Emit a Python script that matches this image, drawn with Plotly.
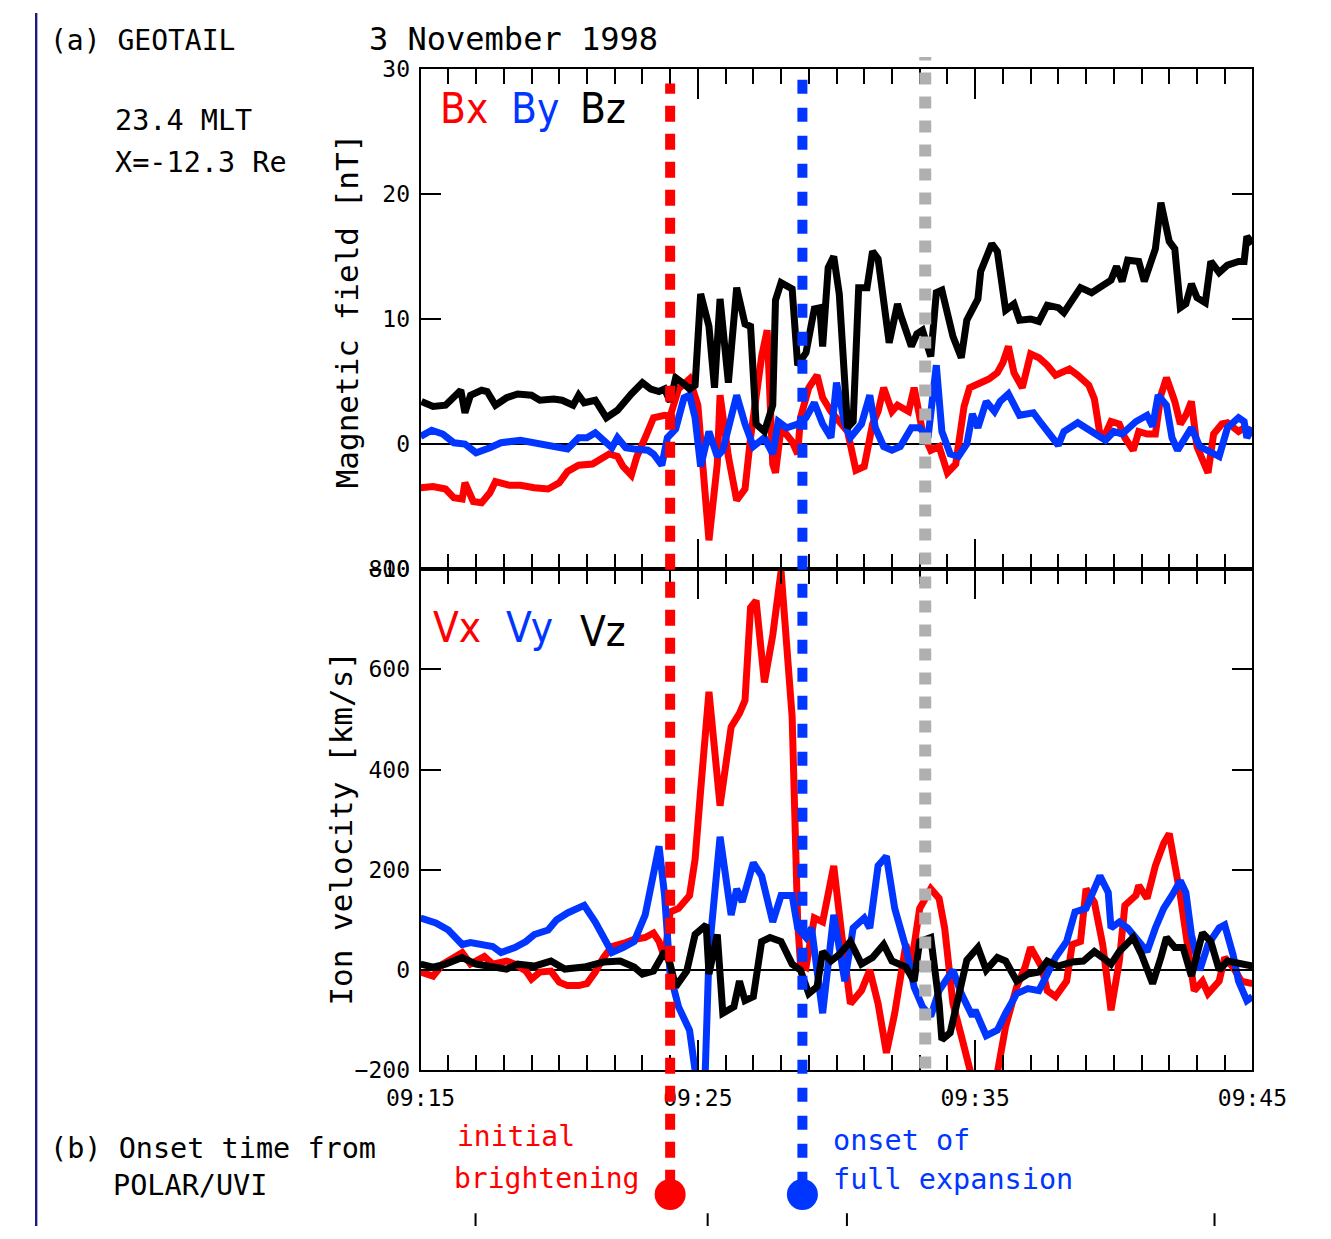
import plotly.graph_objects as go

# ---------------- data (time in minutes after 09:15 UT) ----------------
t_bx = [0.0, 0.45, 0.9, 1.2, 1.5, 1.6, 1.9, 2.2, 2.5, 2.7, 3.2, 3.6, 4.1, 4.6, 5.0, 5.3, 5.7, 6.2, 6.5, 6.8,
        7.1, 7.3, 7.6, 7.8, 8.1, 8.4, 8.8, 9.0, 9.3, 9.7, 10.0, 10.2, 10.4, 10.7, 10.8, 11.1, 11.4, 11.7, 11.9,
        12.3, 12.5, 12.7, 12.8, 13.0, 13.4, 13.6, 13.7, 14.0, 14.3, 14.5, 14.8, 15.1, 15.4, 15.7, 16.0, 16.3,
        16.5, 16.7, 17.0, 17.2, 17.6, 17.8, 18.1, 18.4, 18.7, 19.0, 19.3, 19.6, 19.8, 20.2, 20.5, 20.8, 21.0,
        21.2, 21.4, 21.7, 22.0, 22.3, 22.6, 22.9, 23.4, 23.7, 24.1, 24.3, 24.5, 24.7, 24.9, 25.2, 25.4, 25.7,
        25.9, 26.2, 26.5, 26.7, 26.9, 27.2, 27.4, 27.6, 27.8, 28.0, 28.3, 28.4, 28.6, 28.9, 29.1, 29.5, 29.7, 30.0]
bx = [-3.5, -3.4, -3.6, -4.3, -4.4, -3.1, -4.6, -4.7, -3.9, -3.0, -3.3, -3.3, -3.5, -3.6, -3.1, -2.2, -1.7, -1.6,
      -1.2, -0.8, -1.0, -1.8, -2.5, -1.0, 0.5, 2.1, 2.3, 2.2, 4.4, 5.2, 3.1, -2.3, -7.7, -1.6, 3.9, -1.0, -4.5,
      -3.6, 0.5, 7.0, 9.1, -1.6, -2.3, 1.3, 0.2, -0.8, 2.1, 4.5, 5.5, 3.7, 2.6, 1.8, 1.0, -2.1, -1.8, 1.6, 2.6,
      4.5, 2.6, 3.1, 2.6, 4.5, 1.0, -0.5, -0.2, -2.3, -1.6, 3.0, 4.5, 4.9, 5.2, 5.7, 6.5, 7.8, 5.7, 4.5, 7.2,
      6.9, 6.3, 5.5, 6.0, 5.5, 4.7, 3.6, 0.8, 0.8, 1.8, 1.6, 0.5, -0.5, 1.0, 0.8, 0.8, 3.9, 5.3, 3.4, 1.6, 2.3,
      3.4, -0.2, -1.6, -2.3, 0.8, 1.6, 1.7, 1.0, 1.3, 1.0]

t_by = [0.0, 0.4, 0.8, 1.2, 1.6, 2.0, 2.5, 2.9, 3.6, 4.3, 4.9, 5.3, 5.7, 6.0, 6.3, 6.6, 6.9, 7.1, 7.4, 7.7, 8.2,
        8.4, 8.7, 8.9, 9.2, 9.5, 9.7, 9.9, 10.1, 10.4, 10.7, 10.9, 11.4, 11.7, 12.0, 12.4, 12.7, 12.9, 13.2,
        13.6, 13.9, 14.2, 14.5, 14.8, 15.0, 15.3, 15.5, 15.9, 16.2, 16.4, 16.7, 17.0, 17.3, 17.7, 18.0, 18.3,
        18.6, 18.8, 19.1, 19.4, 19.7, 19.9, 20.1, 20.4, 20.7, 20.9, 21.2, 21.6, 22.1, 22.4, 23.0, 23.2, 23.7,
        24.2, 24.7, 25.0, 25.3, 25.8, 26.2, 26.4, 26.6, 26.9, 27.1, 27.3, 27.6, 27.8, 28.1, 28.4, 28.8, 29.1,
        29.5, 29.7, 29.8, 30.0]
by = [0.6, 1.1, 0.8, 0.1, 0.0, -0.7, -0.3, 0.1, 0.3, 0.0, -0.3, -0.4, 0.5, 0.5, 0.9, 0.3, -0.3, 0.5, -0.3, -0.4,
      -0.5, -0.8, -1.7, 0.5, 1.2, 3.7, 3.9, 2.1, -1.8, 1.0, -1.0, -0.5, 3.9, 1.6, -0.2, 0.5, -0.8, 1.8, 1.3, 1.6,
      2.1, 3.3, 1.6, 0.5, 4.9, 1.6, 0.5, 1.6, 3.9, 1.3, -0.2, -0.5, -0.2, 1.3, 1.3, 0.5, 6.3, 1.0, -0.8, -1.0,
      0.0, 2.4, 1.3, 3.4, 2.6, 3.4, 4.0, 2.3, 2.5, 1.6, -0.1, 1.0, 1.7, 1.0, 0.3, 1.0, 0.8, 1.8, 2.3, 1.4, 3.9,
      3.1, 0.5, -0.5, 0.5, 1.3, -0.2, -0.5, -1.0, 1.3, 2.1, 1.8, 0.5, 1.3]

t_bz = [0.03, 0.45, 0.9, 1.2, 1.45, 1.6, 1.8, 2.2, 2.4, 2.7, 3.1, 3.5, 4.0, 4.3, 4.8, 5.1, 5.5, 5.7, 5.9, 6.3,
        6.7, 7.1, 7.4, 7.6, 8.0, 8.3, 8.6, 8.8, 9.0, 9.2, 9.5, 9.7, 9.9, 10.1, 10.4, 10.6, 10.8, 11.1, 11.4,
        11.7, 11.9, 12.1, 12.4, 12.7, 12.8, 13.0, 13.4, 13.6, 13.9, 14.2, 14.4, 14.5, 14.7, 14.9, 15.1, 15.4,
        15.6, 15.8, 16.1, 16.3, 16.5, 16.9, 17.2, 17.3, 17.7, 17.9, 18.1, 18.4, 18.6, 18.8, 19.2, 19.5, 19.7,
        19.9, 20.1, 20.2, 20.6, 20.8, 21.1, 21.4, 21.6, 22.0, 22.3, 22.6, 23.0, 23.2, 23.5, 23.8, 24.2, 24.5,
        24.9, 25.1, 25.3, 25.5, 25.9, 26.1, 26.5, 26.7, 27.0, 27.2, 27.4, 27.6, 27.8, 28.0, 28.3, 28.5, 28.8,
        29.1, 29.5, 29.7, 29.8, 30.0]
bz = [3.4, 3.0, 3.1, 3.7, 4.3, 2.5, 3.9, 4.3, 4.2, 3.1, 3.7, 4.0, 3.9, 3.5, 3.6, 3.5, 3.1, 3.9, 3.3, 3.5, 2.1,
      2.7, 3.6, 4.0, 4.9, 4.4, 4.2, 4.4, 3.4, 5.3, 4.8, 4.4, 4.7, 12.0, 9.4, 4.5, 11.6, 4.9, 12.5, 9.6, 9.4,
      1.6, 1.0, 3.1, 11.5, 12.9, 12.4, 6.3, 7.3, 10.8, 10.9, 7.8, 14.1, 15.0, 12.0, 1.3, 1.8, 12.5, 12.5, 15.4,
      14.8, 8.1, 11.2, 10.4, 7.8, 8.8, 9.1, 7.0, 12.1, 12.3, 8.6, 6.9, 9.9, 10.7, 11.6, 13.8, 16.0, 15.4, 10.7,
      11.2, 9.9, 10.0, 9.8, 11.1, 10.9, 10.5, 11.5, 12.5, 12.1, 12.6, 13.1, 14.2, 13.0, 14.7, 14.6, 13.0, 15.6,
      19.3, 16.2, 15.6, 10.9, 11.2, 12.8, 11.7, 11.3, 14.6, 13.7, 14.3, 14.6, 14.6, 16.6, 16.0]

t_vx = [0.0, 0.45, 0.8, 1.1, 1.5, 1.8, 2.3, 2.6, 3.1, 3.4, 3.8, 4.0, 4.3, 4.7, 5.0, 5.3, 5.7, 6.0, 6.3, 6.6, 6.9,
        7.4, 7.7, 8.1, 8.4, 8.6, 8.8, 9.0, 9.3, 9.7, 9.9, 10.1, 10.4, 10.8, 11.2, 11.5, 11.7, 11.9, 12.1, 12.4,
        12.7, 13.0, 13.4, 13.6, 13.7, 13.9, 14.2, 14.5, 14.9, 15.2, 15.5, 15.9, 16.2, 16.5, 16.8, 17.1, 17.5,
        17.7, 18.0, 18.4, 18.7, 18.9, 19.2, 19.5, 19.7, 20.0, 20.4, 20.8, 21.1, 21.5, 21.8, 22.0, 22.4, 22.6,
        22.9, 23.3, 23.5, 23.8, 24.0, 24.3, 24.6, 24.9, 25.2, 25.4, 25.8, 25.9, 26.2, 26.5, 26.8, 27.0, 27.4,
        27.6, 27.9, 28.2, 28.4, 28.8, 29.0, 29.3, 29.6, 30.0]
vx = [-4, -12, 12, 22, 35, 12, 27, 12, 18, 12, -2, -18, -4, -2, -24, -31, -31, -27, -4, 25, 47, 55, 61, 65, 74,
      57, 25, 116, 123, 149, 221, 359, 555, 328, 485, 512, 538, 723, 737, 574, 668, 796, 505, 96, 12, 6, 104, 96,
      208, 65, -67, -41, 0, -67, -165, -86, 51, 12, 123, 162, 143, 84, -67, -131, -184, -240, -260, -205, -112,
      -33, 6, 45, 6, -41, -53, -22, 51, 57, 162, 135, 51, -80, 18, 129, 149, 169, 143, 208, 253, 272, 149, 65,
      -41, -22, -47, -22, 25, 6, -22, -27]

t_vy = [0.0, 0.55, 1.0, 1.5, 1.8, 2.3, 2.6, 2.9, 3.4, 3.8, 4.1, 4.6, 4.9, 5.3, 5.9, 6.3, 6.6, 6.9, 7.3, 7.7, 8.1,
        8.3, 8.6, 8.8, 9.0, 9.3, 9.7, 9.9, 10.1, 10.25, 10.4, 10.8, 11.2, 11.4, 11.6, 12.0, 12.3, 12.7, 13.0,
        13.4, 13.6, 13.9, 14.1, 14.5, 14.9, 15.3, 15.6, 16.0, 16.2, 16.5, 16.8, 17.1, 17.5, 17.8, 18.1, 18.4,
        18.7, 19.2, 19.5, 19.9, 20.0, 20.4, 20.8, 21.1, 21.5, 21.9, 22.3, 22.6, 22.9, 23.3, 23.6, 24.0, 24.2,
        24.5, 24.8, 24.9, 25.2, 25.5, 25.9, 26.2, 26.5, 26.8, 27.1, 27.4, 27.6, 27.8, 28.1, 28.4, 28.8, 29.0,
        29.3, 29.5, 29.8, 30.0]
vy = [104, 94, 80, 51, 55, 51, 47, 35, 45, 57, 71, 80, 100, 114, 129, 96, 65, 35, 45, 57, 110, 169, 247, 149, -8,
      -73, -120, -200, -260, -230, 31, 266, 110, 162, 136, 214, 188, 96, 149, 149, 84, 65, 84, -86, 110, -22, 84,
      104, 84, 208, 227, 123, 45, -34, -73, -92, -41, 0, -47, -92, -80, -131, -120, -86, -47, -37, -41, -8, 25,
      57, 116, 123, 149, 188, 155, 84, 96, 84, 57, 37, 84, 123, 149, 178, 155, 71, 0, 51, 84, 90, 31, -22, -61,
      -53]

t_vz = [0.0, 0.45, 0.9, 1.5, 2.0, 2.6, 3.1, 3.5, 4.1, 4.7, 5.2, 5.9, 6.6, 7.2, 7.7, 8.0, 8.4, 8.8, 9.0, 9.2, 9.6,
        9.9, 10.3, 10.4, 10.7, 10.9, 11.3, 11.5, 11.7, 12.0, 12.3, 12.6, 13.0, 13.4, 13.7, 14.0, 14.3, 14.5,
        14.8, 15.1, 15.5, 15.9, 16.3, 16.7, 17.0, 17.5, 17.8, 18.0, 18.4, 18.7, 18.8, 19.1, 19.4, 19.7, 20.1,
        20.4, 20.8, 21.1, 21.5, 21.9, 22.3, 22.6, 23.0, 23.5, 23.9, 24.3, 24.6, 24.9, 25.2, 25.7, 26.0, 26.4,
        26.7, 26.9, 27.2, 27.5, 27.8, 28.0, 28.2, 28.5, 28.8, 29.1, 29.5, 30.0]
vz = [12, 6, 12, 25, 12, 6, 2, 12, 8, 18, 2, 6, 16, 18, 6, -8, -2, 37, 12, -33, -2, 71, 90, -8, 71, -86, -73, -22,
      -61, -53, 57, 65, 57, 12, 0, -47, -33, 37, 18, 31, 57, 12, 25, 51, 18, 6, -22, 57, 65, -67, -139, -125, -53,
      20, 45, 0, 25, 18, -22, -8, -4, 18, 8, 16, 18, 37, 25, 12, 37, 65, 31, -27, 25, 65, 45, 45, -12, 37, 74, 57,
      0, 18, 12, 8]

# onset times (minutes after 09:15): initial brightening, full expansion, reference (gray)
onset_initial = 9.0
onset_full = 13.77
gray_time = 18.2

x_tickvals = [0, 10, 20, 30]
x_ticktext = ["09:15", "09:25", "09:35", "09:45"]
b_tickvals = [-10, 0, 10, 20, 30]
v_tickvals = [-200, 0, 200, 400, 600, 800]
v_ticktext = ["\u2212200", "0", "200", "400", "600", "800"]

# ---------------- styling ----------------
W, H = 1331, 1239
RED = "#ff0000"
BLUE = "#0036ff"
BLACK = "#000000"
GRAY = "#b0b0b0"
MONO = "DejaVu Sans Mono, Liberation Mono, monospace"
SANS = "DejaVu Sans Condensed, DejaVu Sans, sans-serif"


def px(x):
    return x / W


def py(y):
    return 1 - y / H


XDOM = [px(407), px(1285)]
Y1DOM = [py(568), py(57)]
Y2DOM = [py(1080), py(568)]

fig = go.Figure()
lw = 7
for t, v, c, n in [(t_bx, bx, RED, "Bx"), (t_by, by, BLUE, "By"), (t_bz, bz, BLACK, "Bz")]:
    fig.add_trace(go.Scatter(x=t, y=v, mode="lines", line=dict(color=c, width=lw), name=n,
                             xaxis="x", yaxis="y", showlegend=False))
for t, v, c, n in [(t_vx, vx, RED, "Vx"), (t_vy, vy, BLUE, "Vy"), (t_vz, vz, BLACK, "Vz")]:
    fig.add_trace(go.Scatter(x=t, y=v, mode="lines", line=dict(color=c, width=lw), name=n,
                             xaxis="x2", yaxis="y2", showlegend=False))

# onset dots (panel b)
fig.add_trace(go.Scatter(x=[onset_initial, onset_full], y=[0.26, 0.26], mode="markers",
                         marker=dict(size=31, color=[RED, BLUE], line=dict(width=0)),
                         xaxis="x3", yaxis="y3", showlegend=False))

xcommon = dict(range=[0, 30], tickmode="array", tickvals=x_tickvals, ticks="inside", ticklen=30,
               tickwidth=2, tickcolor=BLACK, showline=True, linecolor=BLACK, linewidth=2,
               mirror="allticks", showgrid=False, zeroline=False, domain=XDOM,
               minor=dict(dtick=1, tick0=0, ticks="inside", ticklen=15, tickwidth=2, tickcolor=BLACK,
                          showgrid=False))
ycommon = dict(ticks="inside", ticklen=20, tickwidth=2, tickcolor=BLACK, showline=True, linecolor=BLACK,
               linewidth=2, mirror="allticks", showgrid=False, zeroline=True, zerolinecolor=BLACK,
               zerolinewidth=2, tickfont=dict(family=MONO, size=23, color=BLACK), ticklabelstandoff=4)

fig.update_layout(
    width=W, height=H, autosize=False,
    margin=dict(l=0, r=0, t=0, b=0, pad=0),
    paper_bgcolor="white", plot_bgcolor="white",
    font=dict(family=MONO, color=BLACK),
    xaxis=dict(**xcommon, anchor="y", showticklabels=False),
    xaxis2=dict(**xcommon, anchor="y2", matches="x", showticklabels=True, ticktext=x_ticktext,
                tickfont=dict(family=MONO, size=23, color=BLACK), ticklabelstandoff=6),
    yaxis=dict(**ycommon, domain=Y1DOM, range=[-10, 30], tickmode="array", tickvals=b_tickvals, anchor="x"),
    yaxis2=dict(**ycommon, domain=Y2DOM, range=[-200, 800], tickmode="array", tickvals=v_tickvals,
                ticktext=v_ticktext, anchor="x2"),
    xaxis3=dict(domain=XDOM, range=[0, 30], visible=False, anchor="y3", matches="x"),
    yaxis3=dict(domain=[0, 0.1], range=[0, 1], visible=False, anchor="x3"),
)

# vertical onset lines
shapes = [
    dict(type="line", xref="x", yref="paper", x0=onset_initial, x1=onset_initial, y0=py(1198), y1=py(72),
         line=dict(color=RED, width=10, dash="16px,12px"), layer="above"),
    dict(type="line", xref="x", yref="paper", x0=onset_full, x1=onset_full, y0=py(1198), y1=py(58),
         line=dict(color=BLUE, width=10, dash="14px,14px"), layer="above"),
    dict(type="line", xref="x", yref="paper", x0=gray_time, x1=gray_time, y0=py(1078), y1=py(45),
         line=dict(color=GRAY, width=12, dash="12px,12px"), layer="above"),
    # navy page edge
    dict(type="rect", xref="paper", yref="paper", x0=0, x1=px(2.5), y0=0, y1=1,
         fillcolor="#1a1a80", line=dict(width=0), layer="above"),
]
# partial axis ticks of panel (b) at page bottom
for xb in [465, 710, 857, 1245]:
    shapes.append(dict(type="line", xref="paper", yref="paper", x0=px(xb), x1=px(xb), y0=0, y1=py(1226),
                       line=dict(color=BLACK, width=2)))
fig.update_layout(shapes=shapes)


def ann(text, x, y, size, color=BLACK, xanchor="left", angle=0, family=MONO):
    fig.add_annotation(text=text, x=px(x), y=py(y), xref="paper", yref="paper", showarrow=False,
                       xanchor=xanchor, yanchor="middle", textangle=angle,
                       font=dict(family=family, size=size, color=color))


ann("(a) GEOTAIL", 14, 28, 28)
ann("3 November 1998", 350, 27, 32)
ann("23.4 MLT", 82, 110, 28.5)
ann("X=-12.3 Re", 82, 153, 28.5)
ann("Bx", 425, 98, 42, RED, family=SANS)
ann("By", 500, 98, 42, BLUE, family=SANS)
ann("Bz", 573, 98, 42, BLACK, family=SANS)
ann("Vx", 418, 628, 42, RED, family=SANS)
ann("Vy", 495, 628, 42, BLUE, family=SANS)
ann("Vz", 573, 632, 42, BLACK, family=SANS)
ann("Magnetic field [nT]", 329, 304, 31, xanchor="center", angle=-90)
ann("Ion velocity [km/s]", 322, 833, 31, xanchor="center", angle=-90)
ann("(b) Onset time from", 14, 1160, 28.5)
ann("POLAR/UVI", 80, 1198, 28.5)
ann("initial", 443, 1148, 28, RED)
ann("brightening", 440, 1190, 28, RED)
ann("onset of", 840, 1152, 28.5, BLUE)
ann("full expansion", 840, 1192, 28.5, BLUE)

fig.write_html("out.html")
